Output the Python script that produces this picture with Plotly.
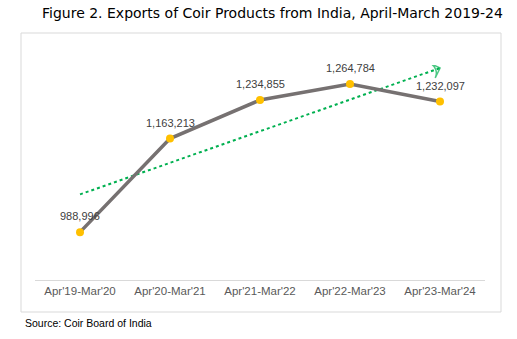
import numpy as np
import plotly.graph_objects as go

categories = ["Apr'19-Mar'20", "Apr'20-Mar'21", "Apr'21-Mar'22", "Apr'22-Mar'23", "Apr'23-Mar'24"]
exports = [988996, 1163213, 1234855, 1264784, 1232097]
title_text = "Figure 2. Exports of Coir Products from India, April-March 2019-24"
source_text = "Source: Coir Board of India"

# linear trendline (least squares fit of the data)
xi = np.arange(len(exports))
slope, intercept = np.polyfit(xi, exports, 1)
trend = list(slope * xi + intercept)

W, H = 517, 339
L, R, T, B = 35, 32, 65, 59
pw, ph = W - L - R, H - T - B

def px(x):
    return (x - L) / pw

def py(y):
    return (H - B - y) / ph

fig = go.Figure()
fig.add_trace(go.Scatter(
    x=categories, y=trend, mode="lines+markers",
    line=dict(color="#00b050", width=2, dash="dot"),
    marker=dict(symbol="arrow-wide-open", angleref="previous",
                size=[0] * (len(trend) - 1) + [11], color="#00b050",
                line=dict(color="#00b050", width=1.5)),
    hoverinfo="skip", showlegend=False))
fig.add_trace(go.Scatter(
    x=categories, y=exports, mode="lines+markers",
    line=dict(color="#767171", width=3.5),
    marker=dict(color="#ffc000", size=8),
    showlegend=False))

annotations = [
    dict(text=title_text, xref="paper", yref="paper", x=px(272), y=py(13),
         xanchor="center", yanchor="middle", showarrow=False,
         font=dict(family="DejaVu Sans", size=14, color="#000000")),
    dict(text=source_text, xref="paper", yref="paper", x=px(23), y=py(323),
         xanchor="left", yanchor="middle", showarrow=False,
         font=dict(family="Liberation Sans", size=10.5, color="#000000")),
]
for c, v in zip(categories, exports):
    annotations.append(dict(
        text=f"{v:,}", x=c, y=v, xref="x", yref="y", showarrow=False,
        xanchor="center", yanchor="middle", yshift=16,
        font=dict(family="Liberation Sans", size=11, color="#404040")))

fig.update_layout(
    width=W, height=H, margin=dict(l=L, r=R, t=T, b=B),
    paper_bgcolor="white", plot_bgcolor="white",
    xaxis=dict(type="category", range=[-0.5, 4.5], showgrid=False, zeroline=False,
               showline=True, linecolor="#d9d9d9", linewidth=1, ticks="",
               tickfont=dict(family="Liberation Sans", size=11.5, color="#595959")),
    yaxis=dict(range=[900000, 1300000], showgrid=False, zeroline=False,
               showticklabels=False, showline=False),
    shapes=[dict(type="rect", xref="paper", yref="paper",
                 x0=px(21), x1=px(501), y0=py(312), y1=py(33),
                 line=dict(color="#d9d9d9", width=1), fillcolor="rgba(0,0,0,0)",
                 layer="below")],
    annotations=annotations,
)
fig.write_html("out.html")
